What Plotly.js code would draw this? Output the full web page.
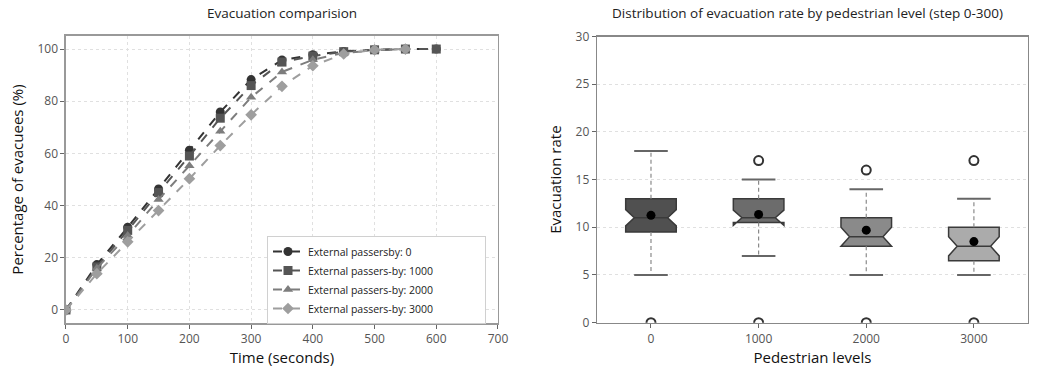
<!DOCTYPE html>
<html><head><meta charset="utf-8">
<script src="https://cdn.plot.ly/plotly-3.0.1.min.js"></script>
<style>html,body{margin:0;padding:0;background:#fff;}#chart{width:1044px;height:373px;}</style>
</head><body><div id="chart"></div>
<script>
// ---- Left chart data ----
const timeSteps = [0,50,100,150,200,250,300,350,400,450,500,550,600];
const timeStepsShort = [0,50,100,150,200,250,300,350,400,450,500,550];
const seriesNames = ["External passersby: 0","External passers-by: 1000","External passers-by: 2000","External passers-by: 3000"];
const evac0    = [0,17.4,31.7,46.4,61.2,75.9,88.3,95.8,97.8,99.1,99.7,100,100];
const evac1000 = [0,16.5,30.5,45.0,59.0,73.5,86.0,95.0,97.3,99.0,99.7,100,100];
const evac2000 = [0,16.0,28.5,42.3,55.3,68.5,81.5,91.2,95.9,98.5,99.5,100];
const evac3000 = [0,13.9,26.1,38.1,50.3,63.0,74.8,85.7,93.6,98.1,99.7,100];

// ---- Right chart data ----
const levels = ["0","1000","2000","3000"];
const q1 = [9.5,10.5,8.0,6.5];
const medians = [11.0,11.0,9.0,8.0];
const q3 = [13.0,13.0,11.0,10.0];
const lowerWhisker = [5,7,5,5];
const upperWhisker = [18,15,14,13];
const notchHalf = [0.85,0.8,1.0,1.0];
const means = [11.25,11.35,9.7,8.5];
const outlierLevels = ["0","1000","1000","2000","2000","3000","3000"];
const outlierValues = [0,17,0,16,0,17,0];

const lineColors = ["#333333","#555555","#7d7d7d","#9e9e9e"];
const symbols = ["circle","square","triangle-up","diamond"];
const leftX = [timeSteps,timeSteps,timeStepsShort,timeStepsShort];
const leftY = [evac0,evac1000,evac2000,evac3000];
const boxFills = ["#505050","#6c6c6c","#8a8a8a","#ababab"];
const pad = "\u00a0".repeat(17);

const font = "Open Sans, DejaVu Sans, sans-serif";
const traces = [];
for (let i=0;i<4;i++){
  traces.push({
    type:"scatter", mode:"lines+markers", x:leftX[i], y:leftY[i], name:seriesNames[i] + pad,
    xaxis:"x", yaxis:"y",
    line:{color:lineColors[i], width:2, dash:"dash"},
    marker:{color:lineColors[i], symbol:symbols[i], size:9}
  });
}
for (let i=0;i<4;i++){
  traces.push({
    type:"box", xaxis:"x2", yaxis:"y2", showlegend:false,
    x:[levels[i]], q1:[q1[i]], median:[medians[i]], q3:[q3[i]],
    lowerfence:[q1[i]], upperfence:[q3[i]],
    notched:true, notchspan:[notchHalf[i]], notchwidth:0.17,
    width:0.47, fillcolor:boxFills[i],
    line:{color:"#3a3a3a", width:1.5},
    hoverinfo:"skip"
  });
}
// whiskers (dashed) built from the stats arrays
const wx=[], wy=[];
for (let i=0;i<4;i++){
  wx.push(levels[i],levels[i],null,levels[i],levels[i],null);
  wy.push(q3[i],upperWhisker[i],null,q1[i],lowerWhisker[i],null);
}
traces.push({type:"scatter", mode:"lines", x:wx, y:wy, xaxis:"x2", yaxis:"y2", showlegend:false,
  line:{color:"#8a8a8a", width:1.2, dash:"4px,3px"}, hoverinfo:"skip"});
traces.push({type:"scatter", mode:"markers", x:levels.concat(levels), y:lowerWhisker.concat(upperWhisker),
  xaxis:"x2", yaxis:"y2", showlegend:false,
  marker:{symbol:"line-ew", size:24, line:{color:"#666", width:2}}, hoverinfo:"skip"});
traces.push({type:"scatter", mode:"markers", x:levels, y:means, xaxis:"x2", yaxis:"y2", showlegend:false,
  marker:{symbol:"circle", size:9, color:"#000"}});
traces.push({type:"scatter", mode:"markers", x:outlierLevels, y:outlierValues, xaxis:"x2", yaxis:"y2", showlegend:false,
  cliponaxis:true,
  marker:{symbol:"circle-open", size:9, color:"#333", line:{width:2}}});

const gridC = "#e0e0e0";
const layout = {
  width:1044, height:373, margin:{l:0,r:0,t:0,b:0},
  paper_bgcolor:"#fff", plot_bgcolor:"#fff",
  font:{family:font, color:"#333", size:12},
  showlegend:true,
  legend:{x:267/1044, y:1-236/373, xanchor:"left", yanchor:"top", bgcolor:"#fff",
    bordercolor:"#d0d0d0", borderwidth:1, font:{size:10.5, color:"#222"}, tracegroupgap:0},
  boxmode:"overlay",
  xaxis:{domain:[0.0632,0.477], range:[0,700], dtick:100, anchor:"y",
    showgrid:true, gridcolor:gridC, griddash:"dot", zeroline:false,
    showline:true, mirror:true, linecolor:"#999", linewidth:1.5,
    ticks:"outside", ticklen:4, tickcolor:"#666", tickfont:{size:12, color:"#555"},
    title:{text:"Time (seconds)", font:{size:15, color:"#111"}, standoff:6}},
  yaxis:{domain:[0.134,0.9035], range:[-5,105], dtick:20, anchor:"x",
    showgrid:true, gridcolor:gridC, griddash:"dot", zeroline:false,
    showline:true, mirror:true, linecolor:"#999", linewidth:1.5,
    ticks:"outside", ticklen:4, tickcolor:"#666", tickfont:{size:12, color:"#555"},
    title:{text:"Percentage of evacuees (%)", font:{size:15, color:"#111"}, standoff:10}},
  xaxis2:{domain:[0.572,0.9844], type:"category", range:[-0.5,3.5], anchor:"y2",
    showgrid:false, zeroline:false,
    showline:true, mirror:true, linecolor:"#888", linewidth:1.5,
    ticks:"outside", ticklen:4, tickcolor:"#666", tickfont:{size:12, color:"#555"},
    title:{text:"Pedestrian levels", font:{size:15, color:"#111"}, standoff:6}},
  yaxis2:{domain:[0.135,0.902], range:[0,30], dtick:5, anchor:"x2",
    showgrid:true, gridcolor:gridC, griddash:"dot", zeroline:false,
    showline:true, mirror:true, linecolor:"#888", linewidth:1.5,
    ticks:"outside", ticklen:4, tickcolor:"#666", tickfont:{size:12, color:"#555"},
    title:{text:"Evacuation rate", font:{size:15, color:"#111"}, standoff:10}},
  annotations:[
    {text:"Evacuation comparision", xref:"paper", yref:"paper", x:0.27, y:1-13/373,
     xanchor:"center", yanchor:"middle", showarrow:false, font:{size:13.5, color:"#222"}},
    {text:"Distribution of evacuation rate by pedestrian level (step 0-300)", xref:"paper", yref:"paper",
     x:807/1044, y:1-13/373, xanchor:"center", yanchor:"middle", showarrow:false, font:{size:13.5, color:"#222"}}
  ]
};
Plotly.newPlot("chart", traces, layout, {staticPlot:true, displayModeBar:false});
</script></body></html>
